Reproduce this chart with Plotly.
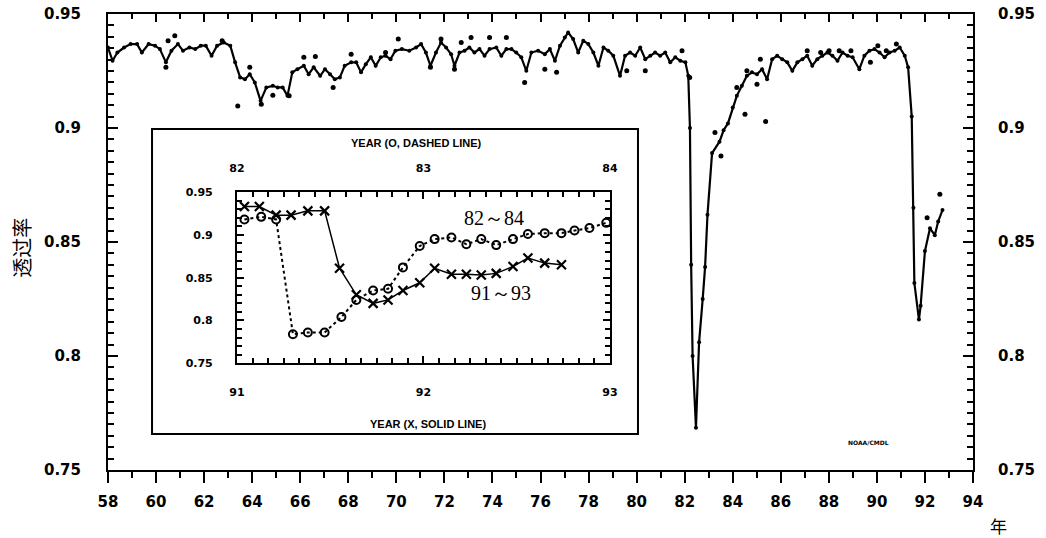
import plotly.graph_objects as go

# ---------------- main series (apparent transmission, Mauna Loa) ----------------
main_years = [58.00, 58.19, 58.39, 58.67, 58.94, 59.21, 59.41, 59.69, 59.96, 60.16,
              60.41, 60.64, 60.91, 61.12, 61.39, 61.63, 61.86, 62.07, 62.31, 62.54,
              62.82, 63.09, 63.29, 63.50, 63.70, 63.90, 64.11, 64.35, 64.59, 64.86,
              65.06, 65.27, 65.47, 65.67, 65.88, 66.15, 66.35, 66.56, 66.83, 67.03,
              67.24, 67.44, 67.65, 67.85, 68.12, 68.33, 68.53, 68.73, 68.94, 69.14,
              69.35, 69.55, 69.76, 69.96, 70.23, 70.54, 70.82, 71.03, 71.23, 71.42,
              71.65, 71.86, 72.07, 72.28, 72.42, 72.63, 72.84, 73.04, 73.25, 73.46,
              73.67, 73.88, 74.16, 74.37, 74.58, 74.79, 74.99, 75.20, 75.41, 75.62,
              75.90, 76.18, 76.39, 76.60, 76.81, 77.01, 77.15, 77.36, 77.57, 77.78,
              77.99, 78.20, 78.41, 78.62, 78.82, 79.03, 79.31, 79.52, 79.73, 79.94,
              80.15, 80.36, 80.57, 80.77, 80.98, 81.19, 81.40, 81.61, 81.82, 82.03,
              82.15, 82.22, 82.27, 82.33, 82.47, 82.60, 82.75, 82.85, 82.95, 83.14,
              83.45, 83.62, 83.80, 84.00, 84.17, 84.38, 84.59, 84.80, 85.01, 85.22,
              85.43, 85.64, 85.85, 86.06, 86.27, 86.48, 86.69, 86.90, 87.10, 87.31,
              87.52, 87.73, 87.94, 88.15, 88.36, 88.57, 88.78, 88.99, 89.27, 89.48,
              89.69, 89.90, 90.11, 90.32, 90.53, 90.74, 90.95, 91.16, 91.30, 91.45,
              91.52, 91.56, 91.75, 91.82, 92.00, 92.21, 92.41, 92.55, 92.73]
main_values = [0.9353, 0.9295, 0.9331, 0.9353, 0.9368, 0.9368, 0.9331, 0.9368, 0.9361, 0.9346,
               0.9288, 0.9339, 0.9368, 0.9339, 0.9353, 0.9346, 0.9361, 0.9361, 0.9317, 0.9361,
               0.9375, 0.9361, 0.9288, 0.9222, 0.9214, 0.9236, 0.9200, 0.9119, 0.9178, 0.9185,
               0.9178, 0.9178, 0.9141, 0.9244, 0.9258, 0.9273, 0.9236, 0.9266, 0.9229, 0.9258,
               0.9236, 0.9214, 0.9222, 0.9273, 0.9288, 0.9288, 0.9244, 0.9280, 0.9310, 0.9273,
               0.9310, 0.9317, 0.9302, 0.9339, 0.9346, 0.9339, 0.9353, 0.9368, 0.9331, 0.9273,
               0.9331, 0.9375, 0.9353, 0.9324, 0.9273, 0.9331, 0.9339, 0.9353, 0.9331, 0.9346,
               0.9317, 0.9346, 0.9353, 0.9317, 0.9346, 0.9346, 0.9331, 0.9310, 0.9251, 0.9331,
               0.9339, 0.9324, 0.9346, 0.9295, 0.9361, 0.9397, 0.9419, 0.9390, 0.9331, 0.9383,
               0.9368, 0.9331, 0.9273, 0.9353, 0.9339, 0.9317, 0.9229, 0.9317, 0.9331, 0.9317,
               0.9353, 0.9302, 0.9317, 0.9331, 0.9317, 0.9331, 0.9288, 0.9310, 0.9295, 0.9288,
               0.9229, 0.9000, 0.8400, 0.8000, 0.7685, 0.8060, 0.8250, 0.8390, 0.8620, 0.8890,
               0.8940, 0.8990, 0.9020, 0.9090, 0.9141, 0.9185, 0.9229, 0.9244, 0.9236, 0.9258,
               0.9214, 0.9302, 0.9317, 0.9302, 0.9288, 0.9251, 0.9288, 0.9302, 0.9317, 0.9273,
               0.9302, 0.9317, 0.9331, 0.9317, 0.9295, 0.9331, 0.9317, 0.9310, 0.9258, 0.9317,
               0.9339, 0.9346, 0.9331, 0.9310, 0.9331, 0.9339, 0.9353, 0.9317, 0.9266, 0.9050,
               0.8650, 0.8320, 0.8160, 0.8220, 0.8460, 0.8560, 0.8530, 0.8590, 0.8640]

# scattered individual observations
dot_years = [60.41, 60.50, 60.78, 62.75, 63.40, 63.90, 64.38, 64.86, 65.54, 66.15,
             66.63, 67.37, 68.12, 69.55, 70.08, 71.42, 71.86, 72.42, 72.70, 73.11,
             73.88, 74.58, 75.34, 76.18, 76.67, 79.59, 80.36, 81.89, 82.21, 83.26,
             83.51, 84.17, 84.51, 84.59, 85.01, 85.15, 85.37, 87.10, 87.66, 88.01,
             88.43, 88.92, 89.73, 90.04, 90.39, 90.81, 92.09, 92.62]
dot_values = [0.9266, 0.9383, 0.9405, 0.9383, 0.9097, 0.9266, 0.9104, 0.9144, 0.9141, 0.9310,
              0.9314, 0.9178, 0.9324, 0.9331, 0.9390, 0.9266, 0.9390, 0.9258, 0.9375, 0.9397,
              0.9397, 0.9397, 0.9200, 0.9258, 0.9244, 0.9251, 0.9251, 0.9339, 0.9222, 0.8980,
              0.8877, 0.9178, 0.9060, 0.9251, 0.9192, 0.9302, 0.9028, 0.9339, 0.9331, 0.9339,
              0.9339, 0.9339, 0.9288, 0.9361, 0.9339, 0.9368, 0.8606, 0.8709]

# ---------------- inset series ----------------
x_years_9193 = [91.04, 91.12, 91.21, 91.29, 91.38, 91.47, 91.55, 91.64, 91.73, 91.81, 91.89,
                91.98, 92.06, 92.15, 92.23, 92.31, 92.39, 92.48, 92.56, 92.65, 92.74]
x_values_9193 = [0.933, 0.933, 0.923, 0.923, 0.928, 0.928, 0.861, 0.830, 0.820, 0.824, 0.835,
                 0.844, 0.861, 0.854, 0.854, 0.853, 0.855, 0.863, 0.873, 0.867, 0.865]
o_years_8284 = [82.04, 82.13, 82.21, 82.30, 82.38, 82.47, 82.56, 82.64, 82.73, 82.81, 82.89, 82.98,
                83.06, 83.15, 83.23, 83.31, 83.39, 83.48, 83.56, 83.65, 83.74, 83.81, 83.89, 83.98]
o_values_8284 = [0.918, 0.921, 0.918, 0.784, 0.786, 0.786, 0.804, 0.824, 0.835, 0.837, 0.862, 0.887,
                 0.895, 0.897, 0.889, 0.895, 0.888, 0.895, 0.901, 0.902, 0.902, 0.905, 0.908, 0.914]

# ---------------- tick labels ----------------
main_xtick_vals = [58, 60, 62, 64, 66, 68, 70, 72, 74, 76, 78, 80, 82, 84, 86, 88, 90, 92, 94]
main_xtick_text = ["58", "60", "62", "64", "66", "68", "70", "72", "74", "76", "78", "80",
                   "82", "84", "86", "88", "90", "92", "94"]
main_ytick_vals = [0.75, 0.8, 0.85, 0.9, 0.95]
main_ytick_text = ["0.75", "0.8", "0.85", "0.9", "0.95"]
inset_bottom_vals = [91, 92, 93]
inset_bottom_text = ["91", "92", "93"]
inset_top_vals = [82, 83, 84]
inset_top_text = ["82", "83", "84"]
inset_ytick_vals = [0.75, 0.8, 0.85, 0.9, 0.95]
inset_ytick_text = ["0.75", "0.8", "0.85", "0.9", "0.95"]

BLACK = "black"
TICKFONT = dict(family="DejaVu Sans", size=15, color=BLACK, weight="bold")
SMALLFONT = dict(family="DejaVu Sans", size=11, color=BLACK, weight="bold")


def minor(t0, dt, direction, ln):
    return dict(tickmode="linear", tick0=t0, dtick=dt, ticks=direction, ticklen=ln,
                tickwidth=1.5, tickcolor=BLACK)


fig = go.Figure()

fig.add_trace(go.Scatter(x=main_years, y=main_values, mode="lines+markers",
                         line=dict(color=BLACK, width=2.2), marker=dict(color=BLACK, size=4),
                         xaxis="x", yaxis="y", showlegend=False, hoverinfo="skip"))
fig.add_trace(go.Scatter(x=dot_years, y=dot_values, mode="markers",
                         marker=dict(color=BLACK, size=5),
                         xaxis="x", yaxis="y", showlegend=False, hoverinfo="skip"))
fig.add_trace(go.Scatter(x=[None], y=[None], xaxis="x2", yaxis="y2", showlegend=False,
                         hoverinfo="skip"))
fig.add_trace(go.Scatter(x=o_years_8284, y=o_values_8284, mode="lines+markers",
                         line=dict(color=BLACK, width=2, dash="dot"),
                         marker=dict(symbol="circle-open", size=8, color=BLACK, line=dict(width=2)),
                         xaxis="x4", yaxis="y3", showlegend=False, hoverinfo="skip"))
fig.add_trace(go.Scatter(x=x_years_9193, y=x_values_9193, mode="lines+markers",
                         line=dict(color=BLACK, width=1.5),
                         marker=dict(symbol="x-thin", size=9, color=BLACK, line=dict(width=2.2, color=BLACK)),
                         xaxis="x3", yaxis="y3", showlegend=False, hoverinfo="skip"))

common = dict(showgrid=False, zeroline=False, showline=True, linecolor=BLACK, linewidth=2,
              tickcolor=BLACK, automargin=False, ticklabeloverflow="allow")

fig.update_layout(
    width=1046, height=538,
    margin=dict(l=108, r=73, t=14, b=68, autoexpand=False),
    paper_bgcolor="white", plot_bgcolor="rgba(0,0,0,0)",
    showlegend=False,
    xaxis=dict(domain=[0, 1], range=[58, 94], anchor="y",
               tickmode="array", tickvals=main_xtick_vals, ticktext=main_xtick_text,
               ticks="outside", ticklen=11, tickwidth=2,
               minor=minor(58, 1, "outside", 6),
               tickfont=TICKFONT, ticklabelstandoff=6, **common),
    xaxis2=dict(overlaying="x", side="top", anchor="y", range=[58, 94],
                tickmode="linear", tick0=58, dtick=2, ticks="inside", ticklen=8, tickwidth=2,
                showticklabels=False, minor=minor(58, 1, "inside", 5), **common),
    yaxis=dict(domain=[0, 1], range=[0.75, 0.95], anchor="x",
               tickmode="array", tickvals=main_ytick_vals, ticktext=main_ytick_text,
               ticks="inside", ticklen=10, tickwidth=2,
               minor=minor(0.75, 0.005, "inside", 6),
               tickfont=TICKFONT, ticklabelstandoff=22, **common),
    yaxis2=dict(overlaying="y", side="right", anchor="x", range=[0.75, 0.95],
                tickmode="array", tickvals=main_ytick_vals, ticktext=main_ytick_text,
                ticks="inside", ticklen=10, tickwidth=2,
                minor=minor(0.75, 0.005, "inside", 6),
                tickfont=TICKFONT, ticklabelstandoff=20, **common),
    xaxis3=dict(domain=[0.1491, 0.5803], range=[91, 93], anchor="y3",
                tickmode="array", tickvals=inset_bottom_vals, ticktext=inset_bottom_text,
                ticks="inside", ticklen=7, tickwidth=2,
                minor=minor(91, 1 / 12, "inside", 5),
                tickfont=SMALLFONT, ticklabelstandoff=18, **common),
    xaxis4=dict(overlaying="x3", side="top", anchor="y3", range=[82, 84],
                tickmode="array", tickvals=inset_top_vals, ticktext=inset_top_text,
                ticks="inside", ticklen=7, tickwidth=2,
                minor=minor(82, 1 / 12, "inside", 5),
                tickfont=SMALLFONT, ticklabelstandoff=14, **common),
    yaxis3=dict(domain=[0.2340, 0.6096], range=[0.75, 0.95], anchor="x3", mirror="ticks",
                tickmode="array", tickvals=inset_ytick_vals, ticktext=inset_ytick_text,
                ticks="inside", ticklen=7, tickwidth=2,
                minor=minor(0.75, 0.01, "inside", 5),
                tickfont=SMALLFONT, ticklabelstandoff=20, **common),
)

fig.add_shape(type="rect", xref="paper", yref="paper", x0=0.0509, x1=0.6127, y0=0.0789, y1=0.7478,
              line=dict(color=BLACK, width=2), fillcolor="rgba(0,0,0,0)", layer="above")

LABELFONT = dict(family="Liberation Sans", size=11, color=BLACK, weight="bold")
ann = dict(xref="paper", yref="paper", showarrow=False, xanchor="center", yanchor="middle")
fig.add_annotation(text="YEAR (O, DASHED LINE)", x=0.357, y=0.717, font=LABELFONT, **ann)
fig.add_annotation(text="YEAR (X, SOLID LINE)", x=0.370, y=0.101, font=LABELFONT, **ann)
fig.add_annotation(text="82～84", x=0.446, y=0.553,
                   font=dict(family="Liberation Serif", size=20, color=BLACK), **ann)
fig.add_annotation(text="91～93", x=0.454, y=0.388,
                   font=dict(family="Liberation Serif", size=20, color=BLACK), **ann)
fig.add_annotation(text="透过率", x=-0.0995, y=0.487, textangle=-90,
                   font=dict(family="Noto Sans CJK SC", size=20, color=BLACK), **ann)
fig.add_annotation(text="年", x=1.030, y=-0.121,
                   font=dict(family="Noto Sans CJK SC", size=17, color=BLACK), **ann)
fig.add_annotation(text="NOAA/CMDL", x=0.879, y=0.061,
                   font=dict(family="DejaVu Sans", size=6, color=BLACK, weight="bold"), **ann)

# remove the default page margin so the figure sits at the window's top-left corner
fig.write_html("out.html", config={"displayModeBar": False},
               post_script="document.body.style.margin='0';document.body.style.overflow='hidden';")
